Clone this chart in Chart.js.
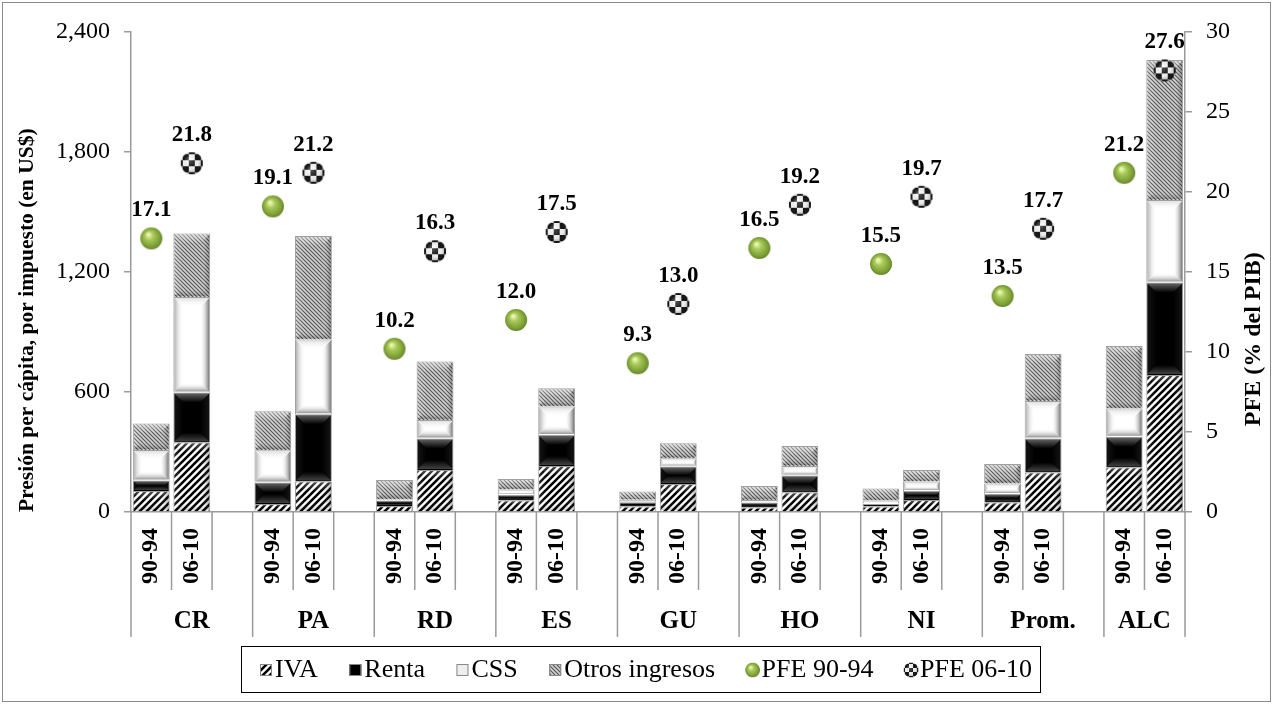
<!DOCTYPE html>
<html>
<head>
<meta charset="utf-8">
<script src="https://cdn.jsdelivr.net/npm/chart.js@4.4.1/dist/chart.umd.min.js"></script>
<style>
  html, body { margin: 0; padding: 0; background: #fff; }
  #wrap { width: 1273px; height: 704px; position: relative; }
</style>
</head>
<body>
<div id="wrap"><canvas id="chart" width="1273" height="704"></canvas></div>
<script>
const groups = ['CR', 'PA', 'RD', 'ES', 'GU', 'HO', 'NI', 'Prom.', 'ALC'];
const periods = ['90-94', '06-10'];

// presion per capita (US$), 1990-94
const iva9094   = [105, 40, 30, 57, 27, 22, 27, 47, 223];
const renta9094 = [52, 108, 28, 28, 22, 25, 13, 43, 153];
const css9094   = [153, 161, 5, 28, 12, 13, 17, 53, 142];
const otros9094 = [133, 195, 97, 52, 41, 70, 61, 97, 312];

// presion per capita (US$), 2006-10
const iva0610   = [347, 152, 210, 230, 140, 98, 60, 198, 685];
const renta0610 = [250, 337, 158, 155, 87, 85, 45, 170, 462];
const css0610   = [478, 373, 92, 142, 42, 47, 47, 187, 413];
const otros0610 = [317, 518, 292, 92, 75, 100, 58, 235, 700];

// PFE (% del PIB)
const pfe9094 = [17.1, 19.1, 10.2, 12.0, 9.3, 16.5, 15.5, 13.5, 21.2];
const pfe0610 = [21.8, 21.2, 16.3, 17.5, 13.0, 19.2, 19.7, 17.7, 27.6];

const SERIF = '"Liberation Serif", "Times New Roman", serif';
Chart.defaults.font.family = SERIF;
Chart.defaults.color = '#000';

const canvas = document.getElementById('chart');
const mainCtx = canvas.getContext('2d');

// one slot per period, plus an empty slot between countries
const labels = [];
groups.forEach((g, i) => {
    labels.push(periods[0], periods[1]);
    if (i < groups.length - 1) labels.push('');
});

function slots(a, b) {
    const out = [];
    a.forEach((v, i) => {
        out.push(v, b[i]);
        if (i < a.length - 1) out.push(null);
    });
    return out;
}
const none = groups.map(() => null);

function makePattern(size, draw) {
    const c = document.createElement('canvas');
    c.width = c.height = size;
    draw(c.getContext('2d'), size);
    return mainCtx.createPattern(c, 'repeat');
}

const ivaFill = makePattern(7, (x, s) => {
    x.fillStyle = '#fff';
    x.fillRect(0, 0, s, s);
    x.strokeStyle = '#000';
    x.lineWidth = 2.6;
    x.beginPath();
    x.moveTo(0, s); x.lineTo(s, 0);
    x.moveTo(-2, 2); x.lineTo(2, -2);
    x.moveTo(s - 2, s + 2); x.lineTo(s + 2, s - 2);
    x.stroke();
});

const otrosFill = makePattern(4, (x, s) => {
    x.fillStyle = '#d2d2d2';
    x.fillRect(0, 0, s, s);
    x.strokeStyle = '#555';
    x.lineWidth = 1.2;
    x.beginPath();
    x.moveTo(0, 0); x.lineTo(s, s);
    x.moveTo(-2, s - 2); x.lineTo(2, s + 2);
    x.moveTo(s - 2, -2); x.lineTo(s + 2, 2);
    x.stroke();
});

function sphere() {
    const c = document.createElement('canvas');
    c.width = c.height = 24;
    const x = c.getContext('2d');
    const g = x.createRadialGradient(9, 8, 1, 12, 12, 12);
    g.addColorStop(0, '#eaf7b0');
    g.addColorStop(0.3, '#a9c95a');
    g.addColorStop(0.8, '#789a32');
    g.addColorStop(1, '#5a7522');
    x.fillStyle = g;
    x.beginPath();
    x.arc(12, 12, 11, 0, Math.PI * 2);
    x.fill();
    return c;
}

function checkerBall() {
    const c = document.createElement('canvas');
    c.width = c.height = 24;
    const x = c.getContext('2d');
    x.save();
    x.beginPath();
    x.arc(12, 12, 11, 0, Math.PI * 2);
    x.clip();
    x.fillStyle = '#fff';
    x.fillRect(0, 0, 24, 24);
    x.fillStyle = '#000';
    for (let r = 0; r < 5; r++) {
        for (let k = 0; k < 5; k++) {
            if ((r + k) % 2 === 0) x.fillRect(-3 + k * 6, -3 + r * 6, 6, 6);
        }
    }
    const g = x.createRadialGradient(9, 8, 1, 12, 12, 12);
    g.addColorStop(0, 'rgba(255,255,255,0.35)');
    g.addColorStop(0.6, 'rgba(128,128,128,0.15)');
    g.addColorStop(1, 'rgba(0,0,0,0.6)');
    x.fillStyle = g;
    x.fillRect(0, 0, 24, 24);
    x.restore();
    return c;
}

const greenBall = sphere();
const checkBall = checkerBall();

// bevel shading per stack series: top, bottom, left, right
const bevels = {
    'IVA':            ['rgba(255,255,255,0.3)', 'rgba(0,0,0,0.2)', 'rgba(255,255,255,0.15)', 'rgba(0,0,0,0.3)'],
    'Renta':          ['rgba(255,255,255,0.38)', 'rgba(255,255,255,0.26)', 'rgba(255,255,255,0.08)', 'rgba(255,255,255,0.08)'],
    'CSS':            ['rgba(0,0,0,0.12)', 'rgba(0,0,0,0.42)', 'rgba(0,0,0,0.3)', 'rgba(0,0,0,0.55)'],
    'Otros ingresos': ['rgba(255,255,255,0.45)', 'rgba(0,0,0,0.25)', 'rgba(255,255,255,0.2)', 'rgba(0,0,0,0.3)']
};

function bar(label, data, fill) {
    return {
        type: 'bar', label, data, backgroundColor: fill,
        borderColor: '#a0a0a0', borderWidth: 1,
        stack: 'imp', yAxisID: 'y', order: 2,
        barPercentage: 0.91, categoryPercentage: 1
    };
}

function dots(label, data, img) {
    return {
        type: 'line', label, data, showLine: false,
        pointStyle: img, pointRadius: 11, yAxisID: 'y2', order: 0
    };
}

function trap(ctx, pts, x0, y0, x1, y1, color) {
    const g = ctx.createLinearGradient(x0, y0, x1, y1);
    g.addColorStop(0, color);
    g.addColorStop(1, 'rgba(255,255,255,0)');
    ctx.fillStyle = g;
    ctx.beginPath();
    ctx.moveTo(pts[0][0], pts[0][1]);
    for (let i = 1; i < pts.length; i++) ctx.lineTo(pts[i][0], pts[i][1]);
    ctx.closePath();
    ctx.fill();
}

const bevelPlugin = {
    id: 'bevel',
    afterDatasetDraw(chart, args) {
        const ds = chart.data.datasets[args.index];
        const shade = bevels[ds.label];
        if (!shade) return;
        const ctx = chart.ctx;
        ctx.save();
        args.meta.data.forEach((el, j) => {
            if (ds.data[j] == null) return;
            const l = el.x - el.width / 2 + 1, r = el.x + el.width / 2 - 1;
            const t = Math.min(el.y, el.base) + 1, b = Math.max(el.y, el.base) - 1;
            const d = Math.min(9, (b - t) / 2, (r - l) / 2);
            if (d <= 0) return;
            trap(ctx, [[l, t], [r, t], [r - d, t + d], [l + d, t + d]], 0, t, 0, t + d, shade[0]);
            trap(ctx, [[l, b], [r, b], [r - d, b - d], [l + d, b - d]], 0, b, 0, b - d, shade[1]);
            trap(ctx, [[l, t], [l + d, t + d], [l + d, b - d], [l, b]], l, 0, l + d, 0, shade[2]);
            trap(ctx, [[r, t], [r - d, t + d], [r - d, b - d], [r, b]], r, 0, r - d, 0, shade[3]);
        });
        ctx.restore();
    }
};

const pointLabels = {
    id: 'pointLabels',
    afterDatasetsDraw(chart) {
        const ctx = chart.ctx;
        ctx.save();
        ctx.font = 'bold 23px ' + SERIF;
        ctx.fillStyle = '#000';
        ctx.textAlign = 'center';
        ctx.textBaseline = 'middle';
        chart.data.datasets.forEach((ds, i) => {
            if (ds.type !== 'line') return;
            chart.getDatasetMeta(i).data.forEach((pt, j) => {
                const v = ds.data[j];
                if (v == null) return;
                ctx.fillText(v.toFixed(1), pt.x, pt.y - 28);
            });
        });
        ctx.restore();
    }
};

// grouped x axis: separator lines + country names, right title, legend box, outer frame
const decor = {
    id: 'decor',
    afterDraw(chart) {
        const ctx = chart.ctx;
        const xs = chart.scales.x;
        const slot = xs.getPixelForValue(1) - xs.getPixelForValue(0);
        const base = xs.top;
        const n = labels.length;
        ctx.save();
        ctx.strokeStyle = '#9a9a9a';
        ctx.lineWidth = 1.5;
        for (let i = 0; i <= n; i++) {
            const px = xs.getPixelForValue(0) - slot / 2 + i * slot;
            const long = i % 3 === 0 || i === n;
            ctx.beginPath();
            ctx.moveTo(px, base);
            ctx.lineTo(px, base + (long ? 125 : 78));
            ctx.stroke();
        }
        ctx.font = 'bold 25px ' + SERIF;
        ctx.fillStyle = '#000';
        ctx.textAlign = 'center';
        ctx.textBaseline = 'middle';
        groups.forEach((g, i) => {
            const first = xs.getPixelForValue(i * 3);
            const span = i < groups.length - 1 ? 3 : 2;
            const cx = first - slot / 2 + span * slot / 2;
            ctx.fillText(g, cx, base + 110);
        });

        // right axis title, reads bottom to top
        const ys = chart.scales.y2;
        ctx.save();
        ctx.translate(1254, ys.getPixelForValue(10.8));
        ctx.rotate(-Math.PI / 2);
        ctx.font = 'bold 24px ' + SERIF;
        ctx.fillText('PFE (% del PIB)', 0, 0);
        ctx.restore();

        // legend
        const items = [
            { label: 'IVA', fill: ivaFill },
            { label: 'Renta', fill: '#000' },
            { label: 'CSS', fill: '#eeeeee' },
            { label: 'Otros ingresos', fill: otrosFill },
            { label: 'PFE 90-94', img: greenBall },
            { label: 'PFE 06-10', img: checkBall }
        ];
        ctx.font = '26px ' + SERIF;
        ctx.textAlign = 'left';
        const icon = 12, gapIcon = 3;
        const box = { l: 241, t: 646, r: 1040, b: 692 };
        const inner = { l: 260, r: 1032 };
        let sum = 0;
        items.forEach(it => {
            it.w = icon + gapIcon + ctx.measureText(it.label).width;
            sum += it.w;
        });
        const gapItem = (inner.r - inner.l - sum) / (items.length - 1);
        ctx.strokeStyle = '#000';
        ctx.lineWidth = 1;
        ctx.strokeRect(box.l + 0.5, box.t + 0.5, box.r - box.l, box.b - box.t);
        let lx = inner.l;
        const ly = (box.t + box.b) / 2 + 1;
        items.forEach(it => {
            if (it.img) {
                ctx.drawImage(it.img, lx - 2, ly - 8, 16, 16);
            } else {
                ctx.fillStyle = it.fill;
                ctx.fillRect(lx, ly - icon / 2, icon, icon);
                ctx.strokeStyle = '#888';
                ctx.strokeRect(lx + 0.5, ly - icon / 2 + 0.5, icon - 1, icon - 1);
            }
            ctx.fillStyle = '#000';
            ctx.fillText(it.label, lx + icon + gapIcon, ly);
            lx += it.w + gapItem;
        });

        // outer frame
        ctx.strokeStyle = '#8a8a8a';
        ctx.lineWidth = 1;
        ctx.strokeRect(2.5, 2.5, 1268, 699);
        ctx.restore();
    }
};

new Chart(canvas, {
    data: {
        labels,
        datasets: [
            bar('IVA', slots(iva9094, iva0610), ivaFill),
            bar('Renta', slots(renta9094, renta0610), '#000'),
            bar('CSS', slots(css9094, css0610), '#fff'),
            bar('Otros ingresos', slots(otros9094, otros0610), otrosFill),
            dots('PFE 90-94', slots(pfe9094, none), greenBall),
            dots('PFE 06-10', slots(none, pfe0610), checkBall)
        ]
    },
    options: {
        responsive: false,
        animation: false,
        events: [],
        layout: { padding: { top: 32, bottom: 62, left: 0, right: 0 } },
        plugins: { legend: { display: false }, tooltip: { enabled: false } },
        scales: {
            x: {
                stacked: true,
                offset: true,
                grid: { display: false, drawTicks: false, tickLength: 0 },
                border: { display: true, color: '#9a9a9a', width: 1.5 },
                ticks: {
                    autoSkip: false, minRotation: 90, maxRotation: 90, padding: 16,
                    color: '#000', font: { size: 24, weight: 'bold' }
                },
                afterFit(s) { s.height = 130; }
            },
            y: {
                position: 'left', stacked: true, min: 0, max: 2400,
                ticks: {
                    stepSize: 600, padding: 14, color: '#000', font: { size: 24 },
                    callback: v => v.toLocaleString('en-US')
                },
                grid: { drawOnChartArea: false, drawTicks: true, tickLength: 7, color: '#9a9a9a', lineWidth: 1.5 },
                border: { color: '#9a9a9a', width: 1.5 },
                title: {
                    display: true, align: 'start', text: 'Presión per cápita, por impuesto (en US$)',
                    color: '#000', font: { size: 21.5, weight: 'bold' }, padding: { top: 15, bottom: 0 }
                },
                afterFit(s) { s.width = 131; }
            },
            y2: {
                position: 'right', min: 0, max: 30,
                ticks: { stepSize: 5, padding: 14, color: '#000', font: { size: 24 } },
                grid: { drawOnChartArea: false, drawTicks: true, tickLength: 7, color: '#9a9a9a', lineWidth: 1.5 },
                border: { color: '#9a9a9a', width: 1.5 },
                afterFit(s) { s.width = 88; }
            }
        }
    },
    plugins: [bevelPlugin, pointLabels, decor]
});
</script>
</body>
</html>
